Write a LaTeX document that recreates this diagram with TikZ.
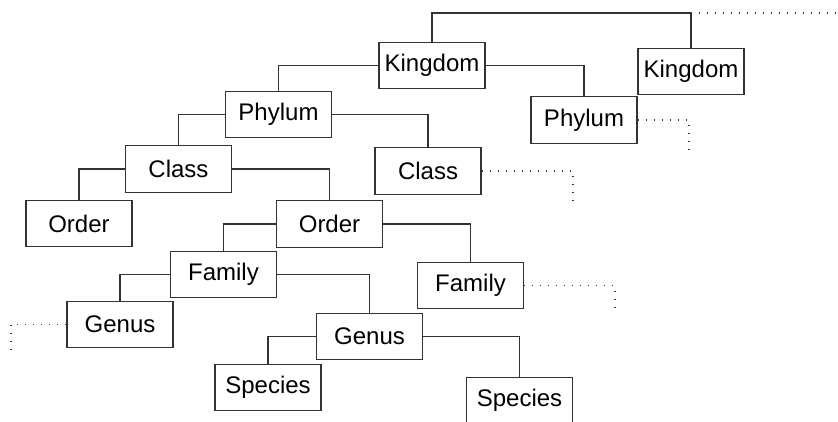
\documentclass[tikz,border=0pt]{standalone}
\usepackage{fontspec}
\setmainfont{Liberation Sans}
\tikzset{
  taxon/.style={draw=black!80, line width=0.9pt, minimum width=79.5pt, minimum height=35pt, inner sep=0pt, font=\fontsize{18}{20}\selectfont},
  link/.style={draw=black!80, line width=0.9pt},
  more/.style={draw=black!80, line width=1.1pt, dash pattern=on 1pt off 5pt}
}
\begin{document}
\begin{tikzpicture}[x=0.75pt,y=-0.75pt]
    \useasboundingbox (0,0) rectangle (838,421);
	\node[taxon] (K1) at (432,65.5) {Kingdom};
	\node[taxon] (K2) at (691,71.5) {Kingdom};
	\node[taxon] (P1) at (278.5,114.5) {Phylum};
	\node[taxon] (P2) at (584,120) {Phylum};
	\node[taxon] (C1) at (178.5,169) {Class};
	\node[taxon] (C2) at (428,171) {Class};
	\node[taxon] (O1) at (79,223.5) {Order};
	\node[taxon] (O2) at (329.5,224) {Order};
	\node[taxon] (F1) at (223.5,274.5) {Family};
	\node[taxon] (F2) at (470.5,285.5) {Family};
	\node[taxon] (G1) at (120,324.5) {Genus};
	\node[taxon] (G2) at (369.5,336.5) {Genus};
	\node[taxon] (S1) at (268,387.5) {Species};
	\node[taxon] (S2) at (519.5,400.5) {Species};

	% top bracket
	\coordinate (Kroot) at (K2.north |- 0,13);
	\coordinate (Kend) at (838,13);
	\draw[link] (K1.north) |- (Kroot) -- (K2.north);
	\draw[more] (Kroot) -- (Kend);

	\draw[link] (K1.west) -| (P1.north);
	\draw[link] (K1.east) -| (P2.north);
	\draw[link] (P1.west) -| (C1.north);
	\draw[link] (P1.east) -| (C2.north);
	\draw[link] (C1.west) -| (O1.north);
	\draw[link] (C1.east) -| (O2.north);
	\draw[link] (O2.west) -| (F1.north);
	\draw[link] (O2.east) -| (F2.north);
	\draw[link] (F1.west) -| (G1.north);
	\draw[link] (F1.east) -| (G2.north);
	\draw[link] (G2.west) -| (S1.north);
	\draw[link] (G2.east) -| (S2.north);

	% dotted ends
	\coordinate (P2end) at (689,150);
	\coordinate (C2end) at (573,200);
	\coordinate (F2end) at (615,314);
	\coordinate (G1end) at (11,352);
	\draw[more] (P2.east) -| (P2end);
	\draw[more] (C2.east) -| (C2end);
	\draw[more] (F2.east) -| (F2end);
	\draw[more] (G1.west) -| (G1end);
\end{tikzpicture}
\end{document}
